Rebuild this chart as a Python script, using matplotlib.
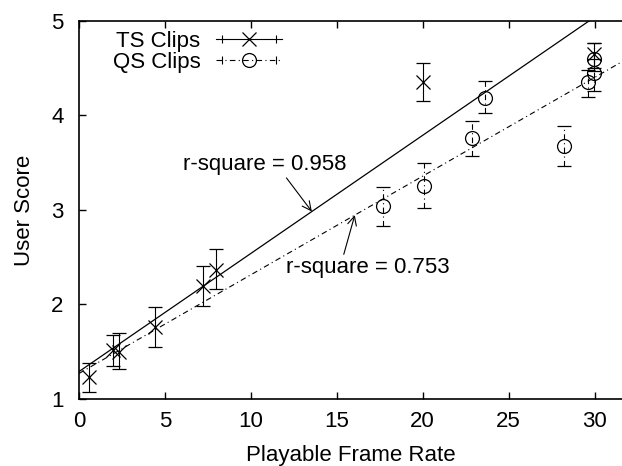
import numpy as np
import matplotlib
matplotlib.use('Agg')
import matplotlib.pyplot as plt
from matplotlib.lines import Line2D
from matplotlib.legend_handler import HandlerLine2D, HandlerTuple

plt.rcParams['font.family'] = ['Liberation Sans', 'DejaVu Sans']
plt.rcParams['font.size'] = 16

# TS clips
ts_x = [0.6, 2.0, 2.35, 4.4, 7.2, 8.0, 20.0, 29.95]
ts_y = [1.23, 1.52, 1.50, 1.76, 2.20, 2.37, 4.35, 4.65]
ts_lo = [1.07, 1.35, 1.32, 1.55, 1.98, 2.16, 4.15, 4.50]
ts_hi = [1.38, 1.68, 1.70, 1.97, 2.41, 2.59, 4.55, 4.77]

# QS clips
qs_x = [17.7, 20.05, 22.85, 23.65, 28.25, 29.6, 29.95, 29.95]
qs_y = [3.04, 3.25, 3.76, 4.19, 3.68, 4.35, 4.45, 4.60]
qs_lo = [2.83, 3.02, 3.57, 4.03, 3.47, 4.20, 4.26, 4.47]
qs_hi = [3.24, 3.50, 3.94, 4.36, 3.89, 4.48, 4.60, 4.77]

# linear fits (intercept, slope)
ts_fit = (1.29, 0.125)
qs_fit = (1.27, 0.1044)
ts_r2 = 0.958
qs_r2 = 0.753

dashdot = (0, (5, 3, 1, 3))

fig = plt.figure(figsize=(6.22, 4.66), dpi=100)
ax = fig.add_axes([0.127, 0.1438, 0.873, 0.8112])

def yerr(y, lo, hi):
    y = np.array(y)
    return [y - np.array(lo), np.array(hi) - y]

ts = ax.errorbar(ts_x, ts_y, yerr=yerr(ts_y, ts_lo, ts_hi), fmt='x', color='black',
                 ms=10, mew=0.9, elinewidth=0.8, capsize=5, capthick=0.8)
qs = ax.errorbar(qs_x, qs_y, yerr=yerr(qs_y, qs_lo, qs_hi), fmt='o', color='black',
                 mfc='none', ms=10, mew=0.9, elinewidth=0.8, capsize=5, capthick=0.8)
qs[2][0].set_linestyle(dashdot)

xs = np.array([0, 31.6])
ax.plot(xs, ts_fit[0] + ts_fit[1] * xs, color='black', lw=0.9)
ax.plot(xs, qs_fit[0] + qs_fit[1] * xs, color='black', lw=0.8, ls=dashdot)

ax.annotate(f'r-square = {ts_r2}', xy=(13.55, ts_fit[0] + ts_fit[1] * 13.55),
            xytext=(6.05, 3.48), va='center', ha='left',
            arrowprops=dict(arrowstyle='->', color='black', lw=0.8, shrinkA=0, shrinkB=0,
                            relpos=(0.62, 0.0)))
ax.annotate(f'r-square = {qs_r2}', xy=(16.05, qs_fit[0] + qs_fit[1] * 16.05),
            xytext=(12.03, 2.39), va='center', ha='left',
            arrowprops=dict(arrowstyle='->', color='black', lw=0.8, shrinkA=0, shrinkB=0,
                            relpos=(0.35, 1.0)))

ax.set_xlim(0, 31.6)
ax.set_ylim(1, 5)
ax.set_xticks([0, 5, 10, 15, 20, 25, 30])
ax.set_yticks([1, 2, 3, 4, 5])
ax.tick_params(direction='in', length=5, width=1, top=True, right=False)
ax.tick_params(axis='x', pad=9)
ax.tick_params(axis='y', pad=11)
ax.spines['right'].set_visible(False)
for s in ['left', 'bottom', 'top']:
    ax.spines[s].set_linewidth(1.2)
ax.set_xlabel('Playable Frame Rate', labelpad=9)
ax.set_ylabel('User Score', labelpad=12)

# legend: line with end caps and marker in the middle
ts_line = Line2D([], [], color='black', lw=0.8)
ts_caps = Line2D([], [], color='black', ls='none', marker='|', ms=6, mew=0.8)
ts_mark = Line2D([], [], color='black', ls='none', marker='x', ms=10, mew=0.9)
qs_line = Line2D([], [], color='black', lw=0.8, ls=dashdot)
qs_caps = Line2D([], [], color='black', ls='none', marker='|', ms=6, mew=0.8)
qs_mark = Line2D([], [], color='black', ls='none', marker='o', mfc='none', ms=10, mew=0.9)
hmap = {ts_caps: HandlerLine2D(numpoints=2), qs_caps: HandlerLine2D(numpoints=2),
        tuple: HandlerTuple(ndivide=1, pad=0)}
ax.legend([(ts_line, ts_caps, ts_mark), (qs_line, qs_caps, qs_mark)], ['TS Clips', 'QS Clips'],
          handler_map=hmap, loc='upper left', bbox_to_anchor=(0.029, 1.02), frameon=False,
          markerfirst=False, handlelength=3.0, handletextpad=0.7, labelspacing=0.0,
          borderpad=0.3, numpoints=1)

fig.savefig('out.png', dpi=100)
